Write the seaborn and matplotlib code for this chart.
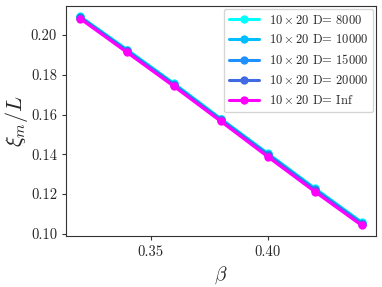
import pandas as pd
import matplotlib
matplotlib.use("Agg")
import matplotlib.pyplot as plt
import seaborn as sns

beta = [0.32, 0.34, 0.36, 0.38, 0.40, 0.42, 0.44]
xi_8000 = [0.2093, 0.1926, 0.1756, 0.1578, 0.1404, 0.1229, 0.1058]
xi_10000 = [0.2091, 0.1923, 0.1753, 0.1576, 0.1401, 0.1226, 0.1055]
xi_15000 = [0.2089, 0.1920, 0.1750, 0.1573, 0.1398, 0.1222, 0.1051]
xi_20000 = [0.2087, 0.1918, 0.1747, 0.1570, 0.1395, 0.1219, 0.1048]
xi_inf = [0.2082, 0.1912, 0.1741, 0.1565, 0.1387, 0.1212, 0.1042]

labels = [r"$10 \times 20$ D= 8000", r"$10 \times 20$ D= 10000",
          r"$10 \times 20$ D= 15000", r"$10 \times 20$ D= 20000",
          r"$10 \times 20$ D= Inf"]
series = [xi_8000, xi_10000, xi_15000, xi_20000, xi_inf]
colors = ["#00FFFF", "#00BFFF", "#1E90FF", "#4169E1", "#FF00FF"]

rows = []
for lab, vals in zip(labels, series):
    for b, v in zip(beta, vals):
        rows.append({"beta": b, "xi": v, "D": lab})
df = pd.DataFrame(rows)

sns.set_style("ticks")
plt.rcParams['font.family'] = ['cmr10', 'DejaVu Serif']
plt.rcParams['mathtext.fontset'] = 'cm'
plt.rcParams['axes.formatter.use_mathtext'] = True

fig, ax = plt.subplots(figsize=(3.82, 2.87), dpi=100)
sns.lineplot(data=df, x="beta", y="xi", hue="D", palette=colors, marker="o",
             markersize=6, markeredgewidth=0, linewidth=2.2, ax=ax)

ax.set_xticks([0.35, 0.40])
ax.set_yticks([0.10, 0.12, 0.14, 0.16, 0.18, 0.20])
ax.set_xticklabels(["0.35", "0.40"])
ax.set_yticklabels(["0.10", "0.12", "0.14", "0.16", "0.18", "0.20"])
ax.tick_params(labelsize=10.5, length=3, color="#333333")
for s in ax.spines.values():
    s.set_color("#333333")
ax.set_xlabel(r"$\beta$", fontsize=14)
ax.set_ylabel(r"$\xi_m/L$", fontsize=16)
ax.yaxis.set_label_coords(-0.115, 0.5)
ax.legend(loc="upper right", fontsize=9, frameon=True, edgecolor="#cccccc",
          fancybox=True, handlelength=2.4, labelspacing=0.55,
          borderaxespad=0.2)

plt.subplots_adjust(left=0.173, right=0.984, top=0.979, bottom=0.178)
plt.savefig("out.png", dpi=100)
